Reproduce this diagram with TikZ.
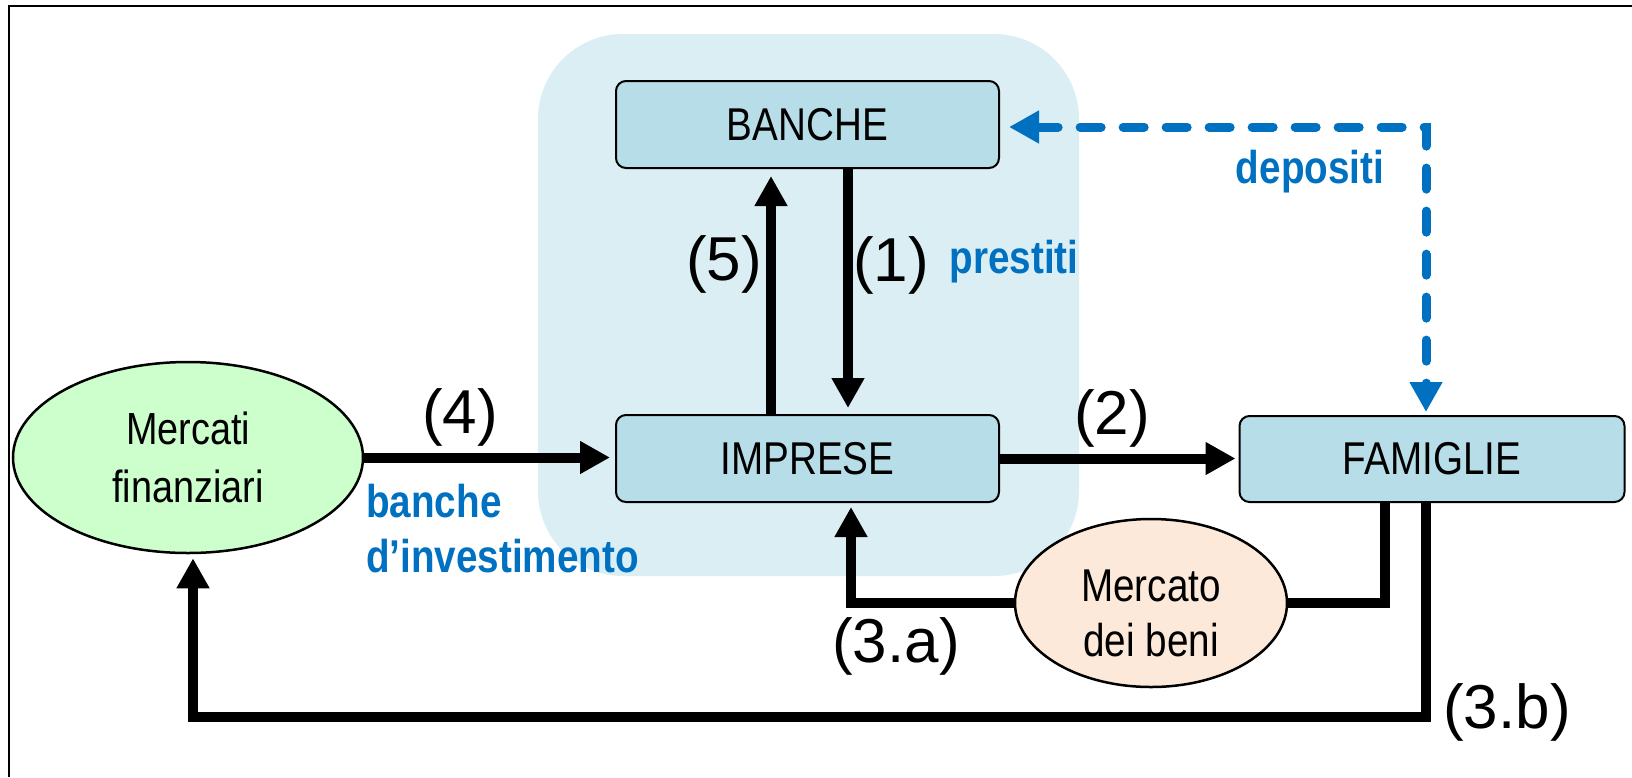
\documentclass[tikz,border=0pt]{standalone}
\usepackage{fontspec}
\setmainfont{Liberation Sans}
\newfontfamily\condf{Liberation Sans}[FakeStretch=0.84]
\usetikzlibrary{arrows.meta,shapes.geometric,calc}
\definecolor{bgblue}{HTML}{DAEEF3}
\definecolor{boxblue}{HTML}{B7DEE8}
\definecolor{mfgreen}{HTML}{CCFFCC}
\definecolor{mbpeach}{HTML}{FDE9D9}
\definecolor{txtblue}{HTML}{0070C0}
\tikzset{
  boxnode/.style={draw, line width=2pt, rounded corners=10pt, fill=boxblue,
    minimum width=383pt, minimum height=87pt, inner sep=0pt,
    font={\condf\fontsize{46}{55}\selectfont}},
  ellnode/.style={ellipse, draw, line width=2.5pt, inner sep=0pt, align=center},
  numlabel/.style={font={\fontsize{62}{70}\selectfont}, inner sep=0pt, anchor=base},
  bluelabel/.style={text=txtblue, font={\condf\bfseries\fontsize{46}{55}\selectfont}, inner sep=0pt},
  flow/.style={line width=10pt},
  flowarrow/.style={line width=10pt, -{Triangle[width=31pt,length=30pt]}},
  depositflow/.style={txtblue, line width=9pt, line cap=round, dash pattern=on 21pt off 22pt,
    {Triangle[width=31pt,length=30pt]}-{Triangle[width=31pt,length=30pt]}}
}
\begin{document}
\begin{tikzpicture}[x=1pt,y=-1pt]
\useasboundingbox (0,0) rectangle (1632,777);
% frame (top and left edges visible)
\draw[line width=1.5pt] (9,777) -- (9,6) -- (1632,6);
% shaded banking area
\fill[bgblue, rounded corners=85pt] (538,34) rectangle (1079,576);
% nodes
\node[boxnode] (banche) at (807.5,124.5) {BANCHE};
\node[boxnode] (imprese) at (807.5,458.5) {IMPRESE};
\node[boxnode, minimum width=385pt, minimum height=86pt] (famiglie) at (1432,459) {FAMIGLIE};
\node[ellnode, fill=mfgreen, minimum width=350pt, minimum height=191pt,
      font={\condf\fontsize{45}{58}\selectfont}] (mf) at (188,457.5) {Mercati\\finanziari};
\node[ellnode, fill=mbpeach, minimum width=272pt, minimum height=168pt,
      font={\condf\fontsize{46}{55}\selectfont}] (mb) at (1151,603) {\rule{0pt}{52pt}Mercato\\dei beni};
% helper coordinates
\coordinate (x5) at (771,0);
\coordinate (x1) at (848,0);
\coordinate (xa) at (1385,0);
\coordinate (xb) at (851,0);
\coordinate (xc) at (1426,0);
\coordinate (yb) at (193,717);
\coordinate (dc) at (1426,127);
% flows
\draw[flowarrow, shorten >=7pt] (imprese.north -| x5) -- (banche.south -| x5);
\draw[flowarrow, shorten >=6pt] (banche.south -| x1) -- (imprese.north -| x1);
\draw[flowarrow, shorten >=5pt] (mf.east) -- (mf.east -| imprese.west);
\draw[flowarrow, shorten >=3pt] (imprese.east) -- (imprese.east -| famiglie.west);
\draw[flow] (famiglie.south -| xa) |- (mb.east);
\draw[flowarrow, shorten >=4pt] (mb.west) -| (imprese.south -| xb);
\draw[flowarrow, shorten >=4pt] (famiglie.south -| xc) |- (yb) -- (mf.south -| yb);
\draw[depositflow, shorten <=9pt, shorten >=3pt] (banche.east |- dc) -- (dc) -- (famiglie.north -| dc);
% labels
\node[numlabel] (l5) at (724,280) {(5)};
\node[numlabel] (l1) at (891,281) {(1)};
\node[numlabel] (l4) at (460,433) {(4)};
\node[numlabel] (l2) at (1112,434) {(2)};
\node[numlabel] (l3a) at (896,662) {(3.a)};
\node[numlabel] (l3b) at (1507,728) {(3.b)};
\node[bluelabel, anchor=base] (dep) at (1310,183) {depositi};
\node[bluelabel, anchor=base] (pre) at (1014,273) {prestiti};
\node[bluelabel, anchor=north west, align=left] (bi) at (366,483.5) {banche\\d’investimento};
\end{tikzpicture}
\end{document}
